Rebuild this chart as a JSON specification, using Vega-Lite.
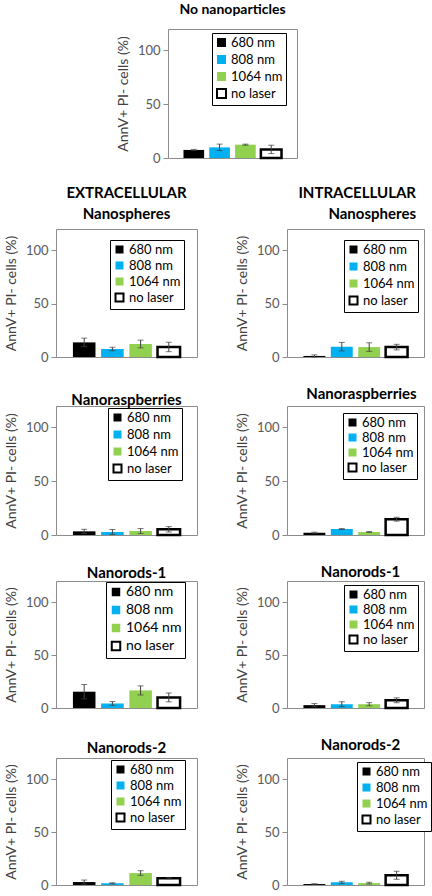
{
"$schema": "https://vega.github.io/schema/vega-lite/v6.json",
"padding": {"left": 3, "top": 2, "right": 0, "bottom": 0},
"config": {
  "font": "Lato",
  "view": {"stroke": "#8c8c8c", "strokeWidth": 1},
  "axisY": {"grid": false, "domain": false, "tickColor": "#8c8c8c", "tickSize": 5, "labelFontSize": 13, "labelColor": "#595959", "labelPadding": 3, "titleFontSize": 14, "titleFontWeight": "normal", "titleColor": "#404040", "titlePadding": 7},
  "legend": {"strokeColor": "#000000", "fillColor": "#ffffff", "padding": 3, "symbolType": "square", "symbolSize": 64, "labelFontSize": 13, "labelColor": "#000000", "symbolStrokeWidth": 2, "labelOffset": 3},
  "title": {"fontSize": 15, "fontWeight": "bold", "color": "#000000"}
},
"data": {"values": [
  {"p": "none", "c": "680 nm", "v": 7.5, "e": 0.5},
  {"p": "none", "c": "808 nm", "v": 9.9, "e": 3},
  {"p": "none", "c": "1064 nm", "v": 12.4, "e": 0.5},
  {"p": "none", "c": "no laser", "v": 8, "e": 3.9},
  {"p": "es", "c": "680 nm", "v": 13.7, "e": 4},
  {"p": "es", "c": "808 nm", "v": 7.5, "e": 1.6},
  {"p": "es", "c": "1064 nm", "v": 12.2, "e": 3.6},
  {"p": "es", "c": "no laser", "v": 9.4, "e": 4.4},
  {"p": "is", "c": "680 nm", "v": 1, "e": 1},
  {"p": "is", "c": "808 nm", "v": 9.7, "e": 4},
  {"p": "is", "c": "1064 nm", "v": 9.3, "e": 4},
  {"p": "is", "c": "no laser", "v": 9.3, "e": 2.6},
  {"p": "er", "c": "680 nm", "v": 3.4, "e": 1.9},
  {"p": "er", "c": "808 nm", "v": 2.8, "e": 2.3},
  {"p": "er", "c": "1064 nm", "v": 3.7, "e": 2.3},
  {"p": "er", "c": "no laser", "v": 5.3, "e": 2.5},
  {"p": "ir", "c": "680 nm", "v": 2.1, "e": 0.5},
  {"p": "ir", "c": "808 nm", "v": 5.5, "e": 0.5},
  {"p": "ir", "c": "1064 nm", "v": 2.8, "e": 0.5},
  {"p": "ir", "c": "no laser", "v": 14.7, "e": 1.8},
  {"p": "e1", "c": "680 nm", "v": 15.4, "e": 6.8},
  {"p": "e1", "c": "808 nm", "v": 4.3, "e": 1.8},
  {"p": "e1", "c": "1064 nm", "v": 16.6, "e": 4.3},
  {"p": "e1", "c": "no laser", "v": 10, "e": 4.2},
  {"p": "i1", "c": "680 nm", "v": 2.7, "e": 1.5},
  {"p": "i1", "c": "808 nm", "v": 3.6, "e": 2.3},
  {"p": "i1", "c": "1064 nm", "v": 3.6, "e": 1.5},
  {"p": "i1", "c": "no laser", "v": 7.3, "e": 2.3},
  {"p": "e2", "c": "680 nm", "v": 2.8, "e": 1.9},
  {"p": "e2", "c": "808 nm", "v": 1.6, "e": 0.5},
  {"p": "e2", "c": "1064 nm", "v": 11.3, "e": 2.2},
  {"p": "e2", "c": "no laser", "v": 6.3, "e": 0.5},
  {"p": "i2", "c": "680 nm", "v": 0.9, "e": 0.4},
  {"p": "i2", "c": "808 nm", "v": 2.5, "e": 1},
  {"p": "i2", "c": "1064 nm", "v": 1.8, "e": 0.8},
  {"p": "i2", "c": "no laser", "v": 9.2, "e": 3.8}
]},
"spacing": 19,
"resolve": {"scale": {"fill": "independent", "stroke": "independent"}, "legend": {"fill": "independent", "stroke": "independent"}},
"vconcat": [
 {"spacing": 58,
  "resolve": {"scale": {"fill": "independent", "stroke": "independent"}, "legend": {"fill": "independent", "stroke": "independent"}},
  "hconcat": [
   {"width": 1, "height": 1, "data": {"values": []}, "mark": "point", "encoding": {}, "view": {"stroke": null}},
   {"width": 129, "height": 129,
    "title": {"text": "No nanoparticles", "fontSize": 14, "offset": 12},
    "transform": [{"filter": "datum.p == 'none'"}],
    "layer": [
     {"mark": {"type": "bar", "strokeWidth": 2.5},
      "encoding": {
       "x": {"field": "c", "type": "nominal", "sort": ["680 nm", "808 nm", "1064 nm", "no laser"], "axis": null, "scale": {"paddingInner": 0.2, "paddingOuter": 0.6}},
       "y": {"field": "v", "type": "quantitative", "scale": {"domain": [0, 120]}, "axis": {"values": [0, 50, 100], "title": "AnnV+ PI- cells (%)"}},
       "fill": {"field": "c", "type": "nominal", "scale": {"domain": ["680 nm", "808 nm", "1064 nm", "no laser"], "range": ["#000000", "#00b0f0", "#92d050", "#ffffff"]}, "legend": {"title": null, "orient": "none", "legendX": 44, "legendY": 4, "rowPadding": 0, "symbolSize": 81}},
       "stroke": {"field": "c", "type": "nominal", "scale": {"domain": ["680 nm", "808 nm", "1064 nm", "no laser"], "range": ["transparent", "transparent", "transparent", "#000000"]}, "legend": {"title": null, "orient": "none", "legendX": 44, "legendY": 4, "rowPadding": 0, "symbolSize": 81}}
      }},
     {"mark": {"type": "errorbar", "ticks": {"size": 6, "color": "#404040"}, "rule": {"color": "#404040"}},
      "encoding": {
       "x": {"field": "c", "type": "nominal", "sort": ["680 nm", "808 nm", "1064 nm", "no laser"]},
       "y": {"field": "v", "type": "quantitative", "title": "AnnV+ PI- cells (%)"},
       "yError": {"field": "e"}
      }}
    ]}
  ]},
 {"spacing": 21,
  "resolve": {"scale": {"fill": "independent", "stroke": "independent"}, "legend": {"fill": "independent", "stroke": "independent"}},
  "vconcat": [
   {"spacing": 36,
    "resolve": {"scale": {"fill": "independent", "stroke": "independent"}, "legend": {"fill": "independent", "stroke": "independent"}},
    "hconcat": [
     {"width": 141, "height": 128,
      "title": {"text": ["EXTRACELLULAR", "Nanospheres"], "offset": 7, "lineHeight": 21},
      "transform": [{"filter": "datum.p == 'es'"}],
      "layer": [
       {"mark": {"type": "bar", "strokeWidth": 2.5},
        "encoding": {
         "x": {"field": "c", "type": "nominal", "sort": ["680 nm", "808 nm", "1064 nm", "no laser"], "axis": null, "scale": {"paddingInner": 0.2, "paddingOuter": 0.6}},
         "y": {"field": "v", "type": "quantitative", "scale": {"domain": [0, 120]}, "axis": {"values": [0, 50, 100], "title": "AnnV+ PI- cells (%)"}},
         "fill": {"field": "c", "type": "nominal", "scale": {"domain": ["680 nm", "808 nm", "1064 nm", "no laser"], "range": ["#000000", "#00b0f0", "#92d050", "#ffffff"]}, "legend": {"title": null, "orient": "none", "legendX": 54, "legendY": 11, "rowPadding": -1}},
         "stroke": {"field": "c", "type": "nominal", "scale": {"domain": ["680 nm", "808 nm", "1064 nm", "no laser"], "range": ["transparent", "transparent", "transparent", "#000000"]}, "legend": {"title": null, "orient": "none", "legendX": 54, "legendY": 11, "rowPadding": -1}}
        }},
       {"mark": {"type": "errorbar", "ticks": {"size": 6, "color": "#404040"}, "rule": {"color": "#404040"}},
        "encoding": {
         "x": {"field": "c", "type": "nominal", "sort": ["680 nm", "808 nm", "1064 nm", "no laser"]},
         "y": {"field": "v", "type": "quantitative", "title": "AnnV+ PI- cells (%)"},
         "yError": {"field": "e"}
        }}
      ]},
     {"width": 137, "height": 128,
      "title": {"text": ["INTRACELLULAR", "Nanospheres"], "offset": 7, "lineHeight": 21, "anchor": "end", "frame": "group", "dx": -8},
      "transform": [{"filter": "datum.p == 'is'"}],
      "layer": [
       {"mark": {"type": "bar", "strokeWidth": 2.5},
        "encoding": {
         "x": {"field": "c", "type": "nominal", "sort": ["680 nm", "808 nm", "1064 nm", "no laser"], "axis": null, "scale": {"paddingInner": 0.2, "paddingOuter": 0.6}},
         "y": {"field": "v", "type": "quantitative", "scale": {"domain": [0, 120]}, "axis": {"values": [0, 50, 100], "title": "AnnV+ PI- cells (%)"}},
         "fill": {"field": "c", "type": "nominal", "scale": {"domain": ["680 nm", "808 nm", "1064 nm", "no laser"], "range": ["#000000", "#00b0f0", "#92d050", "#ffffff"]}, "legend": {"title": null, "orient": "none", "legendX": 57, "legendY": 11, "rowPadding": 0}},
         "stroke": {"field": "c", "type": "nominal", "scale": {"domain": ["680 nm", "808 nm", "1064 nm", "no laser"], "range": ["transparent", "transparent", "transparent", "#000000"]}, "legend": {"title": null, "orient": "none", "legendX": 57, "legendY": 11, "rowPadding": 0}}
        }},
       {"mark": {"type": "errorbar", "ticks": {"size": 6, "color": "#404040"}, "rule": {"color": "#404040"}},
        "encoding": {
         "x": {"field": "c", "type": "nominal", "sort": ["680 nm", "808 nm", "1064 nm", "no laser"]},
         "y": {"field": "v", "type": "quantitative", "title": "AnnV+ PI- cells (%)"},
         "yError": {"field": "e"}
        }}
      ]}
    ]},
   {"spacing": 36,
    "resolve": {"scale": {"fill": "independent", "stroke": "independent"}, "legend": {"fill": "independent", "stroke": "independent"}},
    "hconcat": [
     {"width": 141, "height": 129,
      "title": {"text": "Nanoraspberries", "offset": -2},
      "transform": [{"filter": "datum.p == 'er'"}],
      "layer": [
       {"mark": {"type": "bar", "strokeWidth": 2.5},
        "encoding": {
         "x": {"field": "c", "type": "nominal", "sort": ["680 nm", "808 nm", "1064 nm", "no laser"], "axis": null, "scale": {"paddingInner": 0.2, "paddingOuter": 0.6}},
         "y": {"field": "v", "type": "quantitative", "scale": {"domain": [0, 120]}, "axis": {"values": [0, 50, 100], "title": "AnnV+ PI- cells (%)"}},
         "fill": {"field": "c", "type": "nominal", "scale": {"domain": ["680 nm", "808 nm", "1064 nm", "no laser"], "range": ["#000000", "#00b0f0", "#92d050", "#ffffff"]}, "legend": {"title": null, "orient": "none", "legendX": 52, "legendY": 2, "rowPadding": 0}},
         "stroke": {"field": "c", "type": "nominal", "scale": {"domain": ["680 nm", "808 nm", "1064 nm", "no laser"], "range": ["transparent", "transparent", "transparent", "#000000"]}, "legend": {"title": null, "orient": "none", "legendX": 52, "legendY": 2, "rowPadding": 0}}
        }},
       {"mark": {"type": "errorbar", "ticks": {"size": 6, "color": "#404040"}, "rule": {"color": "#404040"}},
        "encoding": {
         "x": {"field": "c", "type": "nominal", "sort": ["680 nm", "808 nm", "1064 nm", "no laser"]},
         "y": {"field": "v", "type": "quantitative", "title": "AnnV+ PI- cells (%)"},
         "yError": {"field": "e"}
        }}
      ]},
     {"width": 137, "height": 129,
      "title": {"text": "Nanoraspberries", "offset": 4, "dx": 6},
      "transform": [{"filter": "datum.p == 'ir'"}],
      "layer": [
       {"mark": {"type": "bar", "strokeWidth": 2.5},
        "encoding": {
         "x": {"field": "c", "type": "nominal", "sort": ["680 nm", "808 nm", "1064 nm", "no laser"], "axis": null, "scale": {"paddingInner": 0.2, "paddingOuter": 0.6}},
         "y": {"field": "v", "type": "quantitative", "scale": {"domain": [0, 120]}, "axis": {"values": [0, 50, 100], "title": "AnnV+ PI- cells (%)"}},
         "fill": {"field": "c", "type": "nominal", "scale": {"domain": ["680 nm", "808 nm", "1064 nm", "no laser"], "range": ["#000000", "#00b0f0", "#92d050", "#ffffff"]}, "legend": {"title": null, "orient": "none", "legendX": 56, "legendY": 7, "rowPadding": -2}},
         "stroke": {"field": "c", "type": "nominal", "scale": {"domain": ["680 nm", "808 nm", "1064 nm", "no laser"], "range": ["transparent", "transparent", "transparent", "#000000"]}, "legend": {"title": null, "orient": "none", "legendX": 56, "legendY": 7, "rowPadding": -2}}
        }},
       {"mark": {"type": "errorbar", "ticks": {"size": 6, "color": "#404040"}, "rule": {"color": "#404040"}},
        "encoding": {
         "x": {"field": "c", "type": "nominal", "sort": ["680 nm", "808 nm", "1064 nm", "no laser"]},
         "y": {"field": "v", "type": "quantitative", "title": "AnnV+ PI- cells (%)"},
         "yError": {"field": "e"}
        }}
      ]}
    ]},
   {"spacing": 36,
    "resolve": {"scale": {"fill": "independent", "stroke": "independent"}, "legend": {"fill": "independent", "stroke": "independent"}},
    "hconcat": [
     {"width": 141, "height": 127,
      "title": {"text": "Nanorods-1", "offset": 0},
      "transform": [{"filter": "datum.p == 'e1'"}],
      "layer": [
       {"mark": {"type": "bar", "strokeWidth": 2.5},
        "encoding": {
         "x": {"field": "c", "type": "nominal", "sort": ["680 nm", "808 nm", "1064 nm", "no laser"], "axis": null, "scale": {"paddingInner": 0.2, "paddingOuter": 0.6}},
         "y": {"field": "v", "type": "quantitative", "scale": {"domain": [0, 120]}, "axis": {"values": [0, 50, 100], "title": "AnnV+ PI- cells (%)"}},
         "fill": {"field": "c", "type": "nominal", "scale": {"domain": ["680 nm", "808 nm", "1064 nm", "no laser"], "range": ["#000000", "#00b0f0", "#92d050", "#ffffff"]}, "legend": {"title": null, "orient": "none", "legendX": 50, "legendY": 1, "rowPadding": 0, "labelFontSize": 14, "symbolSize": 72}},
         "stroke": {"field": "c", "type": "nominal", "scale": {"domain": ["680 nm", "808 nm", "1064 nm", "no laser"], "range": ["transparent", "transparent", "transparent", "#000000"]}, "legend": {"title": null, "orient": "none", "legendX": 50, "legendY": 1, "rowPadding": 0, "labelFontSize": 14, "symbolSize": 72}}
        }},
       {"mark": {"type": "errorbar", "ticks": {"size": 6, "color": "#404040"}, "rule": {"color": "#404040"}},
        "encoding": {
         "x": {"field": "c", "type": "nominal", "sort": ["680 nm", "808 nm", "1064 nm", "no laser"]},
         "y": {"field": "v", "type": "quantitative", "title": "AnnV+ PI- cells (%)"},
         "yError": {"field": "e"}
        }}
      ]},
     {"width": 137, "height": 127,
      "title": {"text": "Nanorods-1", "offset": 1, "dx": 5},
      "transform": [{"filter": "datum.p == 'i1'"}],
      "layer": [
       {"mark": {"type": "bar", "strokeWidth": 2.5},
        "encoding": {
         "x": {"field": "c", "type": "nominal", "sort": ["680 nm", "808 nm", "1064 nm", "no laser"], "axis": null, "scale": {"paddingInner": 0.2, "paddingOuter": 0.6}},
         "y": {"field": "v", "type": "quantitative", "scale": {"domain": [0, 120]}, "axis": {"values": [0, 50, 100], "title": "AnnV+ PI- cells (%)"}},
         "fill": {"field": "c", "type": "nominal", "scale": {"domain": ["680 nm", "808 nm", "1064 nm", "no laser"], "range": ["#000000", "#00b0f0", "#92d050", "#ffffff"]}, "legend": {"title": null, "orient": "none", "legendX": 57, "legendY": 4, "rowPadding": -2}},
         "stroke": {"field": "c", "type": "nominal", "scale": {"domain": ["680 nm", "808 nm", "1064 nm", "no laser"], "range": ["transparent", "transparent", "transparent", "#000000"]}, "legend": {"title": null, "orient": "none", "legendX": 57, "legendY": 4, "rowPadding": -2}}
        }},
       {"mark": {"type": "errorbar", "ticks": {"size": 6, "color": "#404040"}, "rule": {"color": "#404040"}},
        "encoding": {
         "x": {"field": "c", "type": "nominal", "sort": ["680 nm", "808 nm", "1064 nm", "no laser"]},
         "y": {"field": "v", "type": "quantitative", "title": "AnnV+ PI- cells (%)"},
         "yError": {"field": "e"}
        }}
      ]}
    ]},
   {"spacing": 36,
    "resolve": {"scale": {"fill": "independent", "stroke": "independent"}, "legend": {"fill": "independent", "stroke": "independent"}},
    "hconcat": [
     {"width": 141, "height": 127,
      "title": {"text": "Nanorods-2", "offset": 2},
      "transform": [{"filter": "datum.p == 'e2'"}],
      "layer": [
       {"mark": {"type": "bar", "strokeWidth": 2.5},
        "encoding": {
         "x": {"field": "c", "type": "nominal", "sort": ["680 nm", "808 nm", "1064 nm", "no laser"], "axis": null, "scale": {"paddingInner": 0.2, "paddingOuter": 0.6}},
         "y": {"field": "v", "type": "quantitative", "scale": {"domain": [0, 120]}, "axis": {"values": [0, 50, 100], "title": "AnnV+ PI- cells (%)"}},
         "fill": {"field": "c", "type": "nominal", "scale": {"domain": ["680 nm", "808 nm", "1064 nm", "no laser"], "range": ["#000000", "#00b0f0", "#92d050", "#ffffff"]}, "legend": {"title": null, "orient": "none", "legendX": 55, "legendY": 2, "rowPadding": -1}},
         "stroke": {"field": "c", "type": "nominal", "scale": {"domain": ["680 nm", "808 nm", "1064 nm", "no laser"], "range": ["transparent", "transparent", "transparent", "#000000"]}, "legend": {"title": null, "orient": "none", "legendX": 55, "legendY": 2, "rowPadding": -1}}
        }},
       {"mark": {"type": "errorbar", "ticks": {"size": 6, "color": "#404040"}, "rule": {"color": "#404040"}},
        "encoding": {
         "x": {"field": "c", "type": "nominal", "sort": ["680 nm", "808 nm", "1064 nm", "no laser"]},
         "y": {"field": "v", "type": "quantitative", "title": "AnnV+ PI- cells (%)"},
         "yError": {"field": "e"}
        }}
      ]},
     {"width": 137, "height": 127,
      "title": {"text": "Nanorods-2", "offset": 5, "dx": 5},
      "transform": [{"filter": "datum.p == 'i2'"}],
      "layer": [
       {"mark": {"type": "bar", "strokeWidth": 2.5},
        "encoding": {
         "x": {"field": "c", "type": "nominal", "sort": ["680 nm", "808 nm", "1064 nm", "no laser"], "axis": null, "scale": {"paddingInner": 0.2, "paddingOuter": 0.6}},
         "y": {"field": "v", "type": "quantitative", "scale": {"domain": [0, 120]}, "axis": {"values": [0, 50, 100], "title": "AnnV+ PI- cells (%)"}},
         "fill": {"field": "c", "type": "nominal", "scale": {"domain": ["680 nm", "808 nm", "1064 nm", "no laser"], "range": ["#000000", "#00b0f0", "#92d050", "#ffffff"]}, "legend": {"title": null, "orient": "none", "legendX": 70, "legendY": 4, "rowPadding": -1}},
         "stroke": {"field": "c", "type": "nominal", "scale": {"domain": ["680 nm", "808 nm", "1064 nm", "no laser"], "range": ["transparent", "transparent", "transparent", "#000000"]}, "legend": {"title": null, "orient": "none", "legendX": 70, "legendY": 4, "rowPadding": -1}}
        }},
       {"mark": {"type": "errorbar", "ticks": {"size": 6, "color": "#404040"}, "rule": {"color": "#404040"}},
        "encoding": {
         "x": {"field": "c", "type": "nominal", "sort": ["680 nm", "808 nm", "1064 nm", "no laser"]},
         "y": {"field": "v", "type": "quantitative", "title": "AnnV+ PI- cells (%)"},
         "yError": {"field": "e"}
        }}
      ]}
    ]}
  ]}
]
}
